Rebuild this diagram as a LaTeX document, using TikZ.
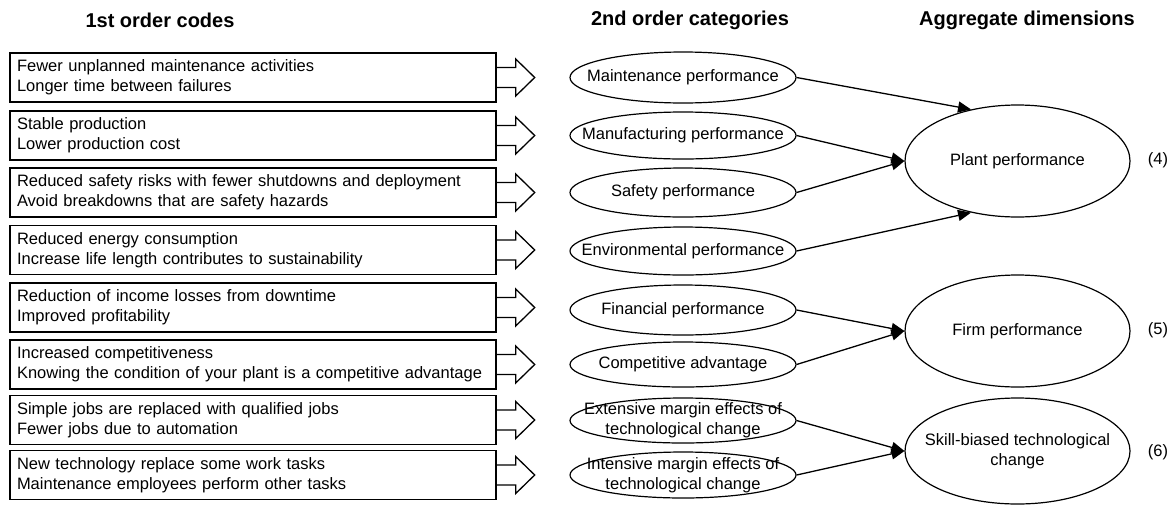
\documentclass[tikz,border=0pt]{standalone}
\usepackage{fontspec}
\setmainfont{Liberation Sans}
\usetikzlibrary{positioning}
\usetikzlibrary{shapes.geometric}
\usetikzlibrary{arrows.meta}

\begin{document}
\begin{tikzpicture}[x = 1pt, y = -1pt,
		font = \fontsize{16.5}{20}\selectfont,
		head/.style = {font = \fontsize{20}{24}\selectfont\bfseries},
		code/.style = {draw, line width = 1.4pt, rectangle, minimum width = 486pt, minimum height = 49pt, text width = 472pt, inner xsep = 7pt, align = left},
		cat/.style = {draw, line width = 1.2pt, ellipse, minimum width = 226pt, inner sep = 0pt},
		dim/.style = {draw, line width = 1.2pt, ellipse, minimum width = 225pt, inner sep = 0pt},
		blockarrow/.style = {line width = 1.3pt, line join = miter},
		link/.style = {line width = 1.3pt, -{Triangle[length = 13pt, width = 11pt]}}]
					\useasboundingbox (0, 0) rectangle (1172, 504);
					\node [head] (h1) at (160, 20) {1st order codes};
					\node [head] (h2) at (690, 20) {2nd order categories};
					\node [head] (h3) at (1027, 20) {Aggregate dimensions};
					% 1st order codes
					\node [code] (c1) at (253, 77.5) {Fewer unplanned maintenance activities\\Longer time between failures};
					\node [code] (c2) at (253, 135.5) {Stable production\\Lower production cost};
					\node [code] (c3) at (253, 192.5) {Reduced safety risks with fewer shutdowns and deployment\\Avoid breakdowns that are safety hazards};
					\node [code] (c4) at (253, 250) {Reduced energy consumption\\Increase life length contributes to sustainability};
					\node [code] (c5) at (253, 307.5) {Reduction of income losses from downtime\\Improved profitability};
					\node [code] (c6) at (253, 364.5) {Increased competitiveness\\Knowing the condition of your plant is a competitive advantage};
					\node [code] (c7) at (253, 420) {Simple jobs are replaced with qualified jobs\\Fewer jobs due to automation};
					\node [code] (c8) at (253, 475) {New technology replace some work tasks\\Maintenance employees perform other tasks};
					\foreach \n in {c1, c2, c3, c4, c5, c6, c7, c8}
						\draw [blockarrow] (\n.east) ++(0, -10) -- ++(19, 0) -- ++(0, -8.5) -- ++(19, 18.5) -- ++(-19, 18.5) -- ++(0, -8.5) -- ++(-19, 0);
					% 2nd order categories
					\node [cat, minimum height = 51pt, label = center:Maintenance performance] (maint) at (683, 77.5) {};
					\node [cat, minimum height = 47pt, label = center:Manufacturing performance] (manuf) at (683, 135.5) {};
					\node [cat, minimum height = 49pt, label = center:Safety performance] (safety) at (683, 192.5) {};
					\node [cat, minimum height = 48pt, label = center:Environmental performance] (env) at (683, 251) {};
					\node [cat, minimum height = 50pt, label = center:Financial performance] (fin) at (683, 310) {};
					\node [cat, minimum height = 45pt, label = center:Competitive advantage] (comp) at (683, 364.5) {};
					\node [cat, minimum height = 45pt, label = {[align = center]center:Extensive margin effects of\\technological change}] (ext) at (683, 420.5) {};
					\node [cat, minimum height = 46pt, label = {[align = center]center:Intensive margin effects of\\technological change}] (int) at (683, 475) {};
					% aggregate dimensions
					\node [dim, minimum height = 112pt, label = center:Plant performance] (plant) at (1017.5, 161) {};
					\node [dim, minimum height = 112pt, label = center:Firm performance] (firm) at (1017.5, 331) {};
					\node [dim, minimum height = 106pt, label = {[align = center]center:Skill-biased technological\\change}] (skill) at (1017.5, 451) {};
					\node (n4) at (1158, 160) {(4)};
					\node (n5) at (1158, 330) {(5)};
					\node (n6) at (1158, 452) {(6)};
					\draw [link] (maint.east) -- (plant.132);
					\draw [link] (manuf.east) -- (plant.west);
					\draw [link] (safety.east) -- (plant.west);
					\draw [link] (env.east) -- (plant.228);
					\draw [link] (fin.east) -- (firm.west);
					\draw [link] (comp.east) -- (firm.west);
					\draw [link] (ext.east) -- (skill.west);
					\draw [link] (int.east) -- (skill.west);
				\end{tikzpicture}
\end{document}
